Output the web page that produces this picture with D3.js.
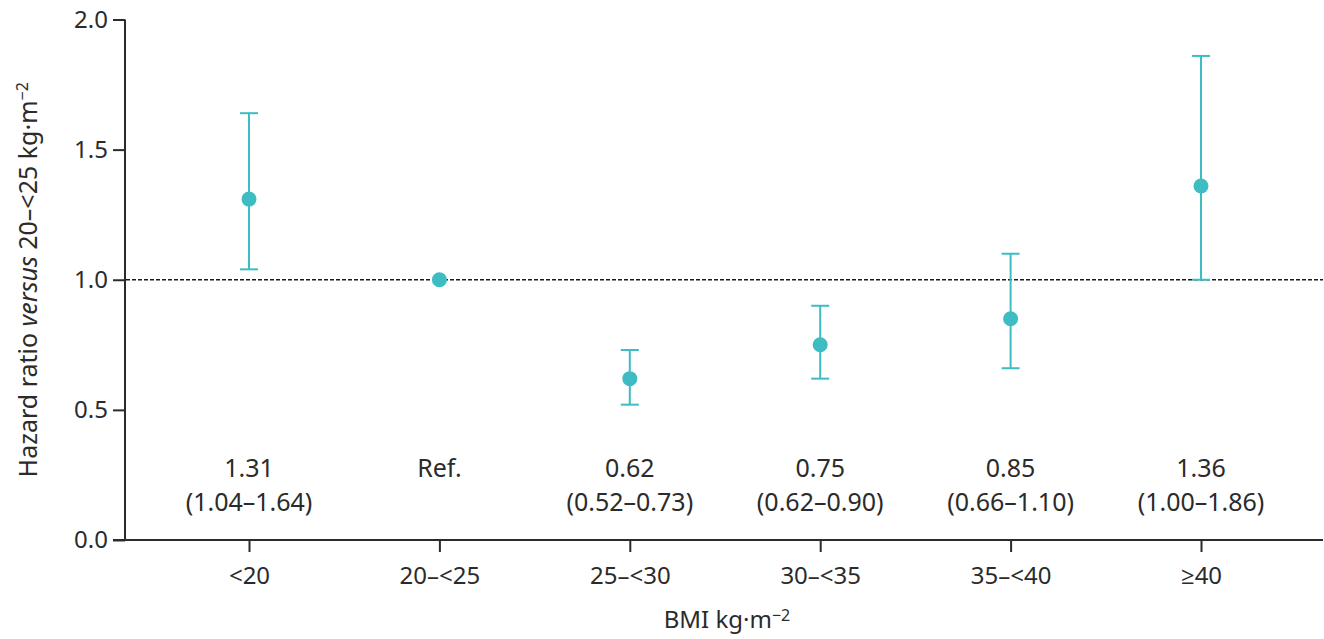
<!DOCTYPE html>
<html>
<head>
<meta charset="utf-8">
<script src="https://cdn.jsdelivr.net/npm/d3@7"></script>
<style>
  body { margin: 0; background: #fff; }
  svg text { font-family: "Noto Sans", "Open Sans", sans-serif; fill: #2b2b2b; }
</style>
</head>
<body>
<div id="chart"></div>
<script>
// categories and values
var categories = ["<20", "20\u2013<25", "25\u2013<30", "30\u2013<35", "35\u2013<40", "\u226540"];
var hr    = [1.31, 1.00, 0.62, 0.75, 0.85, 1.36];
var lower = [1.04, null, 0.52, 0.62, 0.66, 1.00];
var upper = [1.64, null, 0.73, 0.90, 1.10, 1.86];
var labelTop    = ["1.31", "Ref.", "0.62", "0.75", "0.85", "1.36"];
var labelBottom = ["(1.04\u20131.64)", "", "(0.52\u20130.73)", "(0.62\u20130.90)", "(0.66\u20131.10)", "(1.00\u20131.86)"];
var yTicks = [0, 0.5, 1.0, 1.5, 2.0];

var width = 1324, height = 639;
var teal = "#3dbdc3";
var ink = "#2b2b2b";

var svg = d3.select("#chart").append("svg")
  .attr("width", width)
  .attr("height", height);

// scales
var y = d3.scaleLinear().domain([0, 2]).range([540, 19.5]);
var x = d3.scalePoint().domain(categories).range([249, 1201]);
var axisLeftX = 125, axisRightX = 1323;

// y axis
svg.append("g")
  .attr("transform", "translate(" + axisLeftX + ",0)")
  .call(d3.axisLeft(y).tickValues(yTicks).tickFormat(d3.format(".1f")).tickSize(12).tickPadding(5))
  .call(function(g) {
    g.select(".domain").attr("stroke", ink).attr("stroke-width", 2).attr("d", "M0," + y(2) + "V" + y(0));
    g.selectAll(".tick line").attr("stroke", ink).attr("stroke-width", 2);
    g.selectAll("text").style("font-size", "24px").attr("fill", ink);
  });

// x axis (domain line drawn by hand so it spans the full width)
svg.append("g")
  .attr("transform", "translate(0," + y(0) + ")")
  .call(d3.axisBottom(x).tickSize(12).tickPadding(15))
  .call(function(g) {
    g.select(".domain").remove();
    g.selectAll(".tick line").attr("stroke", ink).attr("stroke-width", 2);
    g.selectAll("text").style("font-size", "24px").attr("fill", ink);
  });
svg.append("line")
  .attr("x1", axisLeftX - 12).attr("x2", axisRightX)
  .attr("y1", y(0)).attr("y2", y(0))
  .attr("stroke", ink).attr("stroke-width", 2);

// reference line at HR = 1
svg.append("line")
  .attr("x1", axisLeftX + 1).attr("x2", axisRightX)
  .attr("y1", y(1)).attr("y2", y(1))
  .attr("stroke", "#1a1a1a").attr("stroke-width", 1.5)
  .attr("stroke-dasharray", "4,2");

// error bars
var data = categories.map(function(c, i) {
  return { cat: c, hr: hr[i], lo: lower[i], hi: upper[i], t1: labelTop[i], t2: labelBottom[i] };
});
var withCI = data.filter(function(d) { return d.lo !== null; });

svg.selectAll(".whisker").data(withCI).enter().append("line")
  .attr("x1", function(d) { return x(d.cat); })
  .attr("x2", function(d) { return x(d.cat); })
  .attr("y1", function(d) { return y(d.lo); })
  .attr("y2", function(d) { return y(d.hi); })
  .attr("stroke", teal).attr("stroke-width", 2);

var capW = 9;
["lo", "hi"].forEach(function(k) {
  svg.selectAll(".cap-" + k).data(withCI).enter().append("line")
    .attr("x1", function(d) { return x(d.cat) - capW; })
    .attr("x2", function(d) { return x(d.cat) + capW; })
    .attr("y1", function(d) { return y(d[k]); })
    .attr("y2", function(d) { return y(d[k]); })
    .attr("stroke", teal).attr("stroke-width", 2);
});

// points
svg.selectAll(".pt").data(data).enter().append("circle")
  .attr("cx", function(d) { return x(d.cat); })
  .attr("cy", function(d) { return y(d.hr); })
  .attr("r", 7.5)
  .attr("fill", teal);

// HR (CI) annotations
svg.selectAll(".t1").data(data).enter().append("text")
  .attr("x", function(d) { return x(d.cat); })
  .attr("y", 477)
  .attr("text-anchor", "middle")
  .style("font-size", "25px")
  .text(function(d) { return d.t1; });
svg.selectAll(".t2").data(data).enter().append("text")
  .attr("x", function(d) { return x(d.cat); })
  .attr("y", 511)
  .attr("text-anchor", "middle")
  .style("font-size", "25px")
  .text(function(d) { return d.t2; });

// axis titles
var xt = svg.append("text")
  .attr("x", 727).attr("y", 628)
  .attr("text-anchor", "middle")
  .style("font-size", "24px");
xt.append("tspan").text("BMI kg\u00b7m");
xt.append("tspan").attr("dy", -7).style("font-size", "16px").text("\u22122");

var yt = svg.append("text")
  .attr("transform", "translate(37," + y(1) + ") rotate(-90)")
  .attr("text-anchor", "middle")
  .style("font-size", "25px");
yt.append("tspan").text("Hazard ratio ");
yt.append("tspan").style("font-style", "italic").text("versus");
yt.append("tspan").text(" 20\u2013<25 kg\u00b7m");
yt.append("tspan").attr("dy", -9).style("font-size", "16px").text("\u22122");
</script>
</body>
</html>
